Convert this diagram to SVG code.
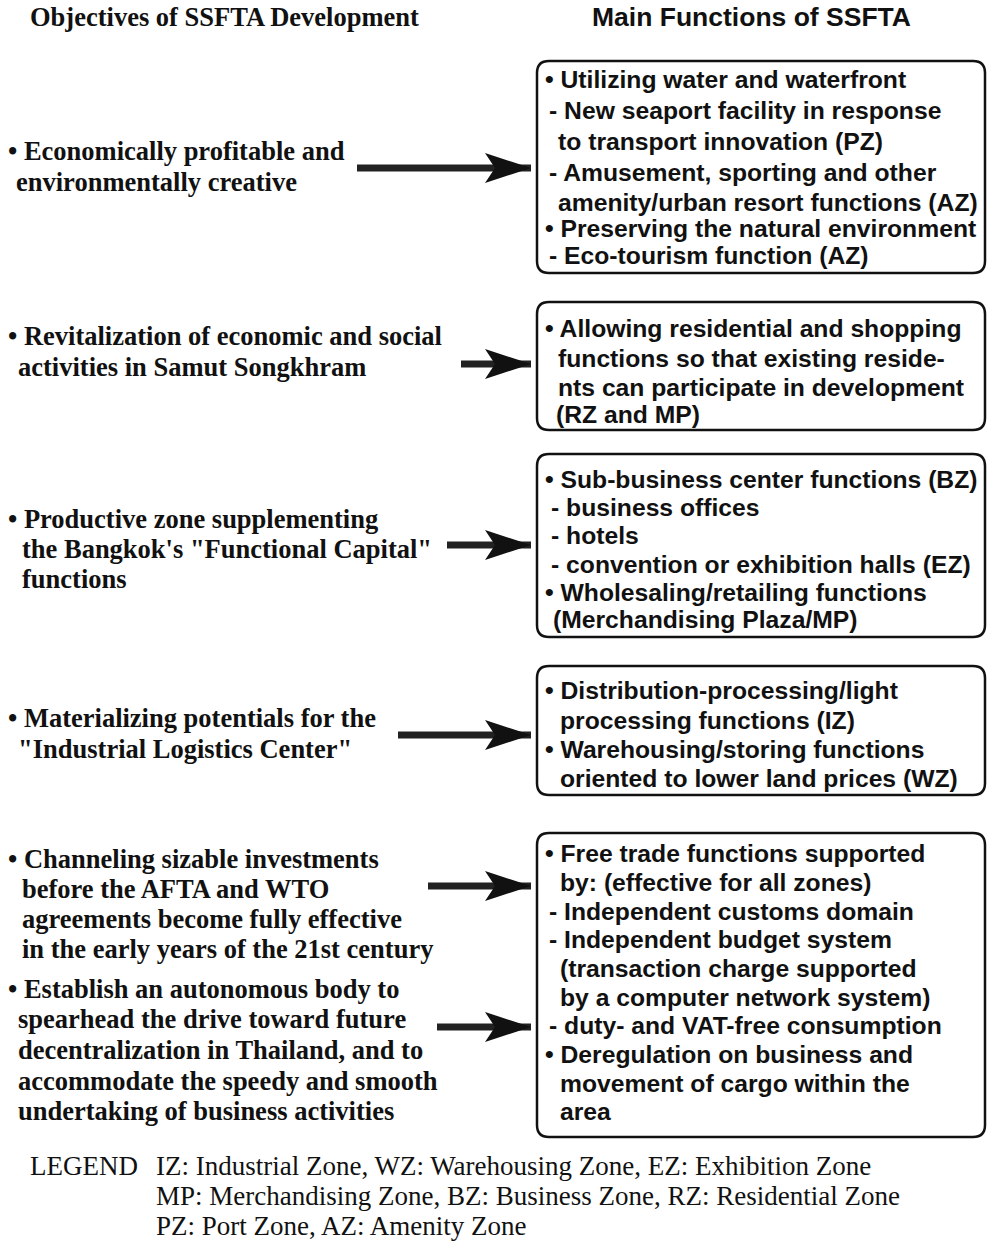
<svg xmlns="http://www.w3.org/2000/svg" width="987" height="1247" viewBox="0 0 987 1247">
  <defs>
    <style>
      .obj { font-family: "Liberation Serif", "Times New Roman", serif; font-weight: bold; font-size: 26.5px; fill: #111; }
      .fn { font-family: "Liberation Sans", Arial, sans-serif; font-weight: bold; font-size: 24.7px; fill: #111; }
      .title-l { font-family: "Liberation Serif", "Times New Roman", serif; font-weight: bold; font-size: 26.5px; fill: #111; }
      .title-r { font-family: "Liberation Sans", Arial, sans-serif; font-weight: bold; font-size: 26.5px; fill: #111; }
      .legend { font-family: "Liberation Serif", "Times New Roman", serif; font-size: 27px; fill: #111; }
      .box { fill: none; stroke: #111; stroke-width: 2.5; }
      .shaft { stroke: #222; stroke-width: 7; }
      .head { fill: #111; }
    </style>
    <marker id="barb" viewBox="0 0 46 30" refX="46" refY="15" markerWidth="46" markerHeight="30" markerUnits="userSpaceOnUse" orient="auto">
      <path class="head" d="M0 0 L46 15 L0 30 L10 15 Z"/>
    </marker>
  </defs>
  <rect width="987" height="1247" fill="#fff"/>

  <!-- column headings -->
  <g id="headings">
    <text class="title-l" x="30" y="26">Objectives of SSFTA Development</text>
    <text class="title-r" x="592" y="26">Main Functions of SSFTA</text>
  </g>

  <!-- objectives (left column) -->
  <g id="obj1">
    <text class="obj" x="8" y="160">• Economically profitable and</text>
    <text class="obj" x="16" y="191">environmentally creative</text>
  </g>
  <g id="obj2">
    <text class="obj" x="8" y="345">• Revitalization of economic and social</text>
    <text class="obj" x="18" y="376">activities in Samut Songkhram</text>
  </g>
  <g id="obj3">
    <text class="obj" x="8" y="528">• Productive zone supplementing</text>
    <text class="obj" x="22" y="558">the Bangkok's "Functional Capital"</text>
    <text class="obj" x="22" y="588">functions</text>
  </g>
  <g id="obj4">
    <text class="obj" x="8" y="727">• Materializing  potentials for the</text>
    <text class="obj" x="18" y="758">"Industrial Logistics Center"</text>
  </g>
  <g id="obj5">
    <text class="obj" x="8" y="868">•  Channeling sizable investments</text>
    <text class="obj" x="22" y="898">before the AFTA and WTO</text>
    <text class="obj" x="22" y="928">agreements become fully effective</text>
    <text class="obj" x="22" y="958">in the early years of the 21st century</text>
  </g>
  <g id="obj6">
    <text class="obj" x="8" y="998">• Establish an autonomous body to</text>
    <text class="obj" x="18" y="1028">spearhead the drive toward future</text>
    <text class="obj" x="18" y="1059">decentralization in Thailand, and to</text>
    <text class="obj" x="18" y="1090">accommodate the speedy and smooth</text>
    <text class="obj" x="18" y="1120">undertaking of business activities</text>
  </g>

  <!-- main functions (right column) -->
  <g id="fn1">
    <path class="box" d="M549 61 H973 Q985 61 985 73 V261 Q985 273 973 273 H549 Q537 273 537 261 V73 Q537 61 549 61 Z"/>
    <text class="fn" x="545" y="88">• Utilizing water and waterfront</text>
    <text class="fn" x="549" y="119">- New seaport facility in response</text>
    <text class="fn" x="558" y="150">to transport innovation (PZ)</text>
    <text class="fn" x="549" y="181">- Amusement, sporting and other</text>
    <text class="fn" x="558" y="211">amenity/urban resort functions (AZ)</text>
    <text class="fn" x="545" y="237">• Preserving the natural environment</text>
    <text class="fn" x="549" y="264">- Eco-tourism function (AZ)</text>
  </g>
  <g id="fn2">
    <path class="box" d="M549 302 H973 Q985 302 985 314 V418 Q985 430 973 430 H549 Q537 430 537 418 V314 Q537 302 549 302 Z"/>
    <text class="fn" x="545" y="337">• Allowing residential and shopping</text>
    <text class="fn" x="558" y="367">functions so that existing reside-</text>
    <text class="fn" x="558" y="396">nts can participate in development</text>
    <text class="fn" x="556" y="423">(RZ and MP)</text>
  </g>
  <g id="fn3">
    <path class="box" d="M549 454 H973 Q985 454 985 466 V625 Q985 637 973 637 H549 Q537 637 537 625 V466 Q537 454 549 454 Z"/>
    <text class="fn" x="545" y="488">• Sub-business center functions (BZ)</text>
    <text class="fn" x="551" y="516">-  business offices</text>
    <text class="fn" x="551" y="544">-  hotels</text>
    <text class="fn" x="551" y="573">-  convention or exhibition halls (EZ)</text>
    <text class="fn" x="545" y="601">• Wholesaling/retailing functions</text>
    <text class="fn" x="553" y="628">(Merchandising Plaza/MP)</text>
  </g>
  <g id="fn4">
    <path class="box" d="M549 666 H973 Q985 666 985 678 V783 Q985 795 973 795 H549 Q537 795 537 783 V678 Q537 666 549 666 Z"/>
    <text class="fn" x="545" y="699">• Distribution-processing/light</text>
    <text class="fn" x="560" y="729">processing functions (IZ)</text>
    <text class="fn" x="545" y="758">• Warehousing/storing functions</text>
    <text class="fn" x="560" y="787">oriented to lower land prices (WZ)</text>
  </g>
  <g id="fn5">
    <path class="box" d="M549 833 H973 Q985 833 985 845 V1125 Q985 1137 973 1137 H549 Q537 1137 537 1125 V845 Q537 833 549 833 Z"/>
    <text class="fn" x="545" y="862">• Free trade functions supported</text>
    <text class="fn" x="560" y="891">by: (effective for all zones)</text>
    <text class="fn" x="549" y="920">- Independent customs domain</text>
    <text class="fn" x="549" y="948">- Independent budget system</text>
    <text class="fn" x="560" y="977">(transaction charge supported</text>
    <text class="fn" x="560" y="1006">by a computer network system)</text>
    <text class="fn" x="549" y="1034">- duty- and VAT-free consumption</text>
    <text class="fn" x="545" y="1063">• Deregulation on business and</text>
    <text class="fn" x="560" y="1092">movement of cargo within the</text>
    <text class="fn" x="560" y="1120">area</text>
  </g>

  <!-- arrows from objectives to functions -->
  <g id="connectors">
    <line class="shaft" x1="357" y1="168" x2="531" y2="168" marker-end="url(#barb)"/>
    <line class="shaft" x1="461" y1="364" x2="531" y2="364" marker-end="url(#barb)"/>
    <line class="shaft" x1="447" y1="545" x2="531" y2="545" marker-end="url(#barb)"/>
    <line class="shaft" x1="398" y1="735" x2="531" y2="735" marker-end="url(#barb)"/>
    <line class="shaft" x1="428" y1="886" x2="531" y2="886" marker-end="url(#barb)"/>
    <line class="shaft" x1="437" y1="1027" x2="531" y2="1027" marker-end="url(#barb)"/>
  </g>

  <!-- zone legend -->
  <g id="legend">
    <text class="legend" x="30" y="1175">LEGEND</text>
    <text class="legend" x="156" y="1175">IZ: Industrial Zone,  WZ: Warehousing Zone, EZ: Exhibition Zone</text>
    <text class="legend" x="156" y="1205">MP: Merchandising Zone, BZ: Business Zone, RZ: Residential Zone</text>
    <text class="legend" x="156" y="1235">PZ: Port Zone, AZ: Amenity Zone</text>
  </g>
</svg>
